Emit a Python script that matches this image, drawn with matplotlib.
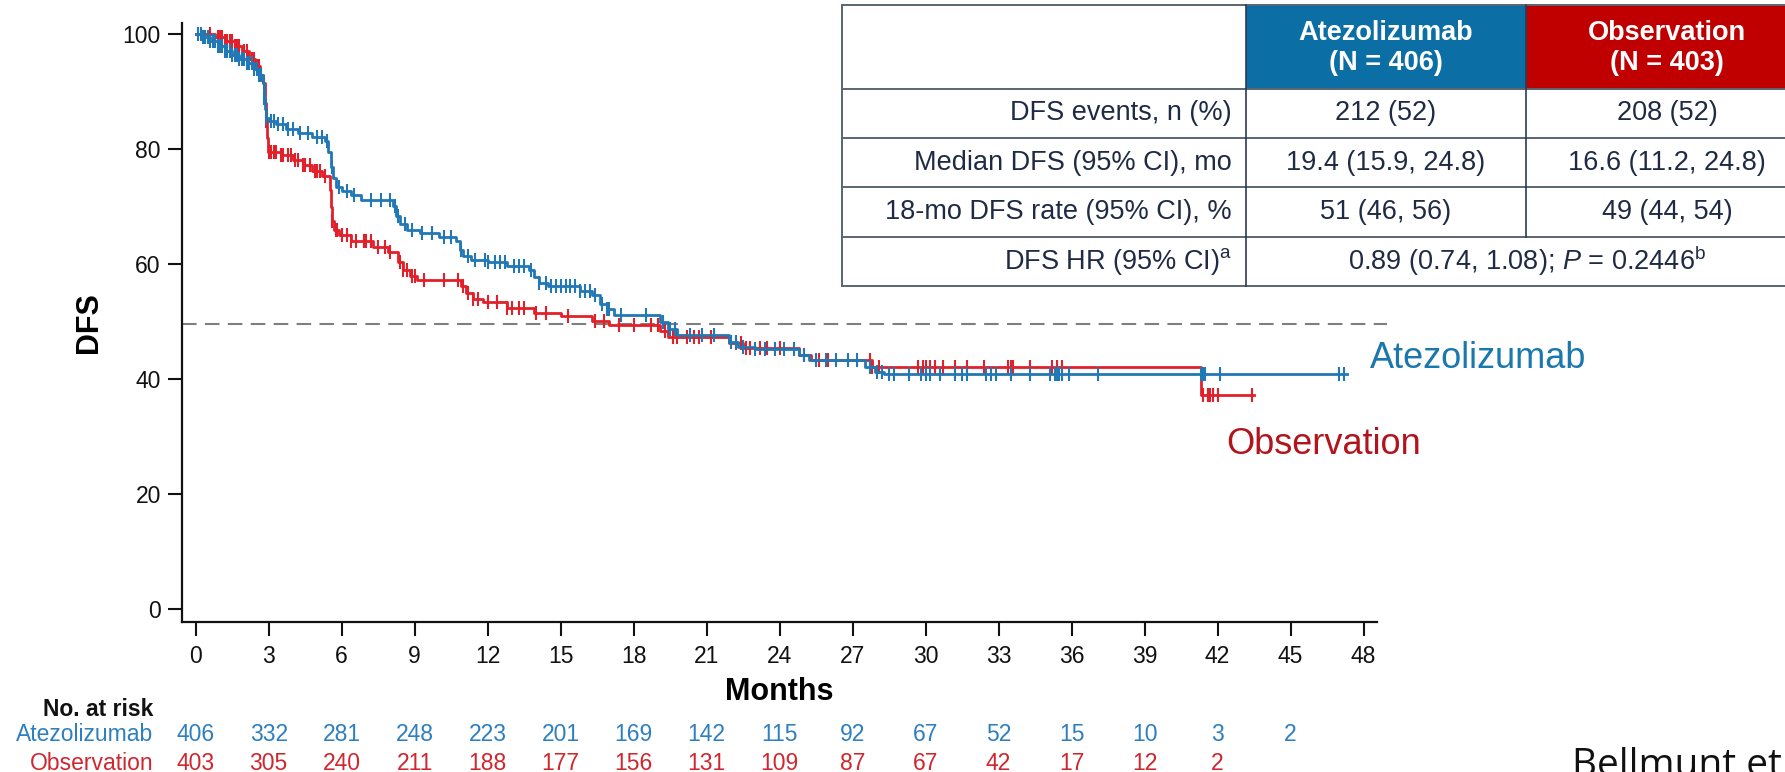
import numpy as np
import matplotlib
matplotlib.use("Agg")
import matplotlib.pyplot as plt
from matplotlib.patches import Rectangle
import matplotlib.transforms as mtransforms

plt.rcParams['font.family'] = ['Liberation Sans', 'DejaVu Sans']
plt.rcParams['mathtext.fontset'] = 'custom'
plt.rcParams['mathtext.rm'] = 'Liberation Sans'
plt.rcParams['mathtext.it'] = 'Liberation Sans:italic'
plt.rcParams['mathtext.bf'] = 'Liberation Sans:bold'

# ---------------- data ----------------
atezo_times = [0, 0.3, 0.6, 0.9, 1.2, 1.5, 1.8, 2.1, 2.4, 2.6, 2.75, 2.8, 2.85, 2.9, 3.0,
               3.3, 3.7, 4.2, 4.8, 5.3, 5.45, 5.55, 5.65, 5.75, 6.0, 6.4, 6.8, 8.1, 8.25,
               8.4, 8.7, 9.2, 10.0, 10.7, 10.85, 11.0, 11.3, 12.0, 12.8, 13.7, 13.9, 14.1,
               14.5, 15.8, 16.3, 16.6, 16.9, 17.2, 19.1, 19.4, 19.8, 21.9, 22.3, 23.0, 24.8,
               25.2, 27.5, 27.9, 28.3, 47.3]
atezo_surv = [100, 99.5, 98.8, 98.0, 97.2, 96.5, 95.8, 95.0, 94.0, 93.0, 91.5, 89.0, 87.0,
              85.5, 85.0, 84.5, 83.6, 82.8, 82.2, 81.5, 79.5, 77.0, 75.0, 73.5, 72.8, 72.0,
              71.2, 70.2, 68.5, 67.0, 66.0, 65.4, 64.8, 64.0, 62.5, 61.5, 60.8, 60.4, 59.8,
              59.0, 57.8, 56.8, 56.2, 55.3, 54.6, 53.2, 52.2, 51.2, 50.0, 48.8, 47.7, 46.5,
              45.6, 45.3, 44.2, 43.4, 42.2, 41.2, 40.9, 40.9]
atezo_censor = [0.1, 0.2, 0.3, 0.4, 0.5, 0.6, 0.7, 0.8, 0.9, 1.0, 1.1, 1.2, 1.3, 1.4, 1.5,
                1.6, 1.7, 1.8, 1.9, 2.0, 2.1, 2.2, 2.3, 2.4, 2.5, 2.6, 2.7, 2.8, 2.9, 3.1,
                3.2, 3.4, 3.6, 3.8, 4.0, 4.3, 4.6, 5.0, 5.2, 5.4, 5.6, 5.9, 6.2, 6.5, 7.2,
                7.6, 8.0, 8.2, 8.3, 8.6, 8.9, 9.3, 9.7, 10.2, 10.5, 10.9, 11.2, 11.5, 11.9,
                12.0, 12.3, 12.5, 12.7, 13.1, 13.3, 13.5, 13.8, 14.1, 14.4, 14.6, 14.8,
                15.0, 15.2, 15.4, 15.6, 15.8, 16.0, 16.2, 16.4, 16.7, 16.9, 17.0, 17.5,
                18.5, 19.2, 19.5, 19.7, 20.3, 20.8, 21.3, 22.0, 22.2, 22.5, 23.0, 23.4,
                23.8, 24.2, 24.6, 25.0, 25.5, 25.9, 26.3, 26.8, 27.2, 27.7, 28.0, 28.2,
                28.5, 28.7, 29.3, 29.8, 30.0, 30.2, 30.6, 31.2, 31.5, 31.7, 32.5, 32.7,
                32.9, 33.5, 34.3, 35.1, 35.3, 35.4, 35.5, 35.6, 35.9, 37.1, 41.3, 41.4,
                41.5, 42.1, 47.0, 47.2]

obs_times = [0, 0.8, 1.2, 1.6, 1.9, 2.2, 2.45, 2.65, 2.78, 2.83, 2.88, 2.93, 2.98, 3.5, 4.0,
             4.4, 4.8, 5.2, 5.5, 5.55, 5.6, 5.7, 5.9, 6.4, 7.3, 7.9, 8.3, 8.5, 8.8, 9.1,
             10.9, 11.1, 11.4, 11.8, 12.8, 13.9, 15.0, 16.3, 17.0, 19.1, 19.4, 21.9, 22.5,
             24.8, 25.3, 27.8, 41.3, 43.5]
obs_surv = [100, 99.5, 98.8, 98.0, 97.2, 95.8, 94.5, 93.0, 91.5, 88.0, 85.0, 82.0, 79.6,
            79.0, 78.2, 77.3, 76.3, 75.3, 73.0, 70.0, 67.5, 66.0, 65.1, 64.0, 63.1, 62.2,
            60.5, 59.0, 58.0, 57.3, 56.2, 55.0, 54.0, 53.4, 52.5, 51.6, 51.1, 50.2, 49.5,
            48.5, 47.4, 46.3, 45.4, 44.2, 43.3, 42.2, 37.3, 37.3]
obs_censor = [0.6, 0.9, 1.0, 1.1, 1.2, 1.3, 1.4, 1.5, 1.6, 1.7, 1.8, 2.0, 2.1, 2.2, 2.3,
              2.4, 2.5, 2.6, 2.7, 2.8, 2.9, 3.0, 3.1, 3.2, 3.3, 3.5, 3.6, 3.8, 3.9, 4.1,
              4.2, 4.4, 4.5, 4.7, 4.9, 5.0, 5.1, 5.3, 5.6, 5.75, 5.8, 6.0, 6.2, 6.4, 6.6,
              6.9, 7.0, 7.2, 7.5, 7.8, 8.0, 8.4, 8.5, 8.7, 8.9, 9.0, 9.4, 10.2, 10.8,
              11.0, 11.2, 11.4, 11.6, 12.0, 12.4, 12.8, 13.0, 13.3, 13.5, 14.0, 14.4,
              15.3, 16.4, 16.8, 17.4, 18.0, 18.7, 19.0, 19.3, 19.6, 19.8, 20.2, 20.5,
              20.7, 21.2, 22.2, 22.4, 22.6, 22.8, 23.2, 23.5, 24.0, 25.0, 25.6, 26.0,
              27.7, 27.8, 28.1, 29.7, 29.9, 30.0, 30.2, 30.4, 30.7, 31.2, 31.7, 32.4,
              33.4, 33.5, 33.6, 34.3, 35.2, 35.4, 35.6, 41.4, 41.6, 41.7, 41.8, 42.0, 43.4]

reference_level = 49.6
month_ticks = list(range(0, 49, 3))
dfs_ticks = [0, 20, 40, 60, 80, 100]
risk_atezo = [406, 332, 281, 248, 223, 201, 169, 142, 115, 92, 67, 52, 15, 10, 3, 2]
risk_obs = [403, 305, 240, 211, 188, 177, 156, 131, 109, 87, 67, 42, 17, 12, 2]

arm_names = ["Atezolizumab", "Observation"]
arm_headers = ["Atezolizumab\n(N = 406)", "Observation\n(N = 403)"]
row_labels = ["DFS events, n (%)", "Median DFS (95% CI), mo",
              "18-mo DFS rate (95% CI), %", r"DFS HR (95% CI)$^{\mathrm{a}}$"]
atezo_col = ["212 (52)", "19.4 (15.9, 24.8)", "51 (46, 56)"]
obs_col = ["208 (52)", "16.6 (11.2, 24.8)", "49 (44, 54)"]
hr_text = r"0.89 (0.74, 1.08); $\mathit{P}$ = 0.2446$^{\mathrm{b}}$"
citation = "Bellmunt et al."

# ---------------- style ----------------
BLUE = "#2277b5"
RED = "#e2202a"
BLUE_TXT = "#1b78ad"
RED_TXT = "#b3141c"
BLUE_RISK = "#2e7fbf"
RED_RISK = "#d0262e"
HDR_BLUE = "#0b6ea4"
HDR_RED = "#c00000"
TBL_TXT = "#1f2a44"

W, H = 1785, 772
fig = plt.figure(figsize=(W / 100, H / 100), dpi=100)
fig.patch.set_facecolor("white")

ax_l, ax_r, ax_t, ax_b = 181.7, 1376.7, 23.0, 622.3
ax = fig.add_axes([ax_l / W, 1 - ax_b / H, (ax_r - ax_l) / W, (ax_b - ax_t) / H])
ax.set_xlim(-0.575, 48.54)
ax.set_ylim(-2.26, 102)

def surv_at(times, surv, t):
    idx = np.searchsorted(times, t, side="right") - 1
    return np.asarray(surv)[idx]

for times, surv, cens, col, z in [(atezo_times, atezo_surv, atezo_censor, BLUE, 3),
                                  (obs_times, obs_surv, obs_censor, RED, 2)]:
    ax.step(times, surv, where="post", color=col, lw=2.0, zorder=z)
    ct = np.array(cens)
    ax.plot(ct, surv_at(times, surv, ct), ls="none", marker="|", ms=10, mew=1.5,
            color=col, zorder=z)

# reference dashed line (extends slightly past the axis)
ax.plot([-0.575, 48.95], [reference_level, reference_level], ls=(0, (7, 4)),
        color="#7f7f7f", lw=1.5, clip_on=False, zorder=1)

ax.set_xticks(month_ticks)
ax.set_yticks(dfs_ticks)
ax.tick_params(axis="both", length=10, width=1.5, labelsize=16.5, colors="#111111")
ax.tick_params(axis="x", pad=6)
ax.tick_params(axis="y", pad=5)
for s in ["top", "right"]:
    ax.spines[s].set_visible(False)
for s in ["left", "bottom"]:
    ax.spines[s].set_linewidth(1.6)
    ax.spines[s].set_color("#111111")

ax.set_ylabel("DFS", fontsize=22, fontweight="bold")
ax.yaxis.set_label_coords(-0.065, 0.5)
ax.set_xlabel("Months", fontsize=22, fontweight="bold")
ax.xaxis.set_label_coords(0.5, -0.092)

# arm labels next to the curves
ax.text(48.27, 42.0, arm_names[0], color=BLUE_TXT, fontsize=26, ha="left",
        va="baseline", clip_on=False)
ax.text(42.35, 27.0, arm_names[1], color=RED_TXT, fontsize=26, ha="left",
        va="baseline", clip_on=False)

# number at risk
trans = mtransforms.blended_transform_factory(ax.transData, fig.transFigure)
y_hdr, y_r1, y_r2 = 1 - 716 / H, 1 - 741 / H, 1 - 770 / H
fig.text(153 / W, y_hdr, "No. at risk", fontsize=16.5, fontweight="bold",
         ha="right", va="baseline", color="#111111")
fig.text(153 / W, y_r1, arm_names[0], fontsize=16.5, ha="right", va="baseline",
         color=BLUE_RISK)
fig.text(153 / W, y_r2, arm_names[1], fontsize=16.5, ha="right", va="baseline",
         color=RED_RISK)
for m, n in zip(month_ticks, risk_atezo):
    ax.text(m, y_r1, str(n), transform=trans, fontsize=16.5, ha="center",
            va="baseline", color=BLUE_RISK, clip_on=False)
for m, n in zip(month_ticks, risk_obs):
    ax.text(m, y_r2, str(n), transform=trans, fontsize=16.5, ha="center",
            va="baseline", color=RED_RISK, clip_on=False)

# ---------------- summary table (pixel overlay) ----------------
ov = fig.add_axes([0, 0, 1, 1], zorder=5)
ov.set_xlim(0, W)
ov.set_ylim(H, 0)
ov.axis("off")
ov.patch.set_alpha(0)

xe = [842, 1246, 1526, 1808]
ye = [5, 89, 137.7, 187.3, 236.7, 285.7]
ov.add_patch(Rectangle((xe[0], ye[0]), xe[3] - xe[0], ye[-1] - ye[0],
                       facecolor="white", edgecolor="none", clip_on=False))
ov.add_patch(Rectangle((xe[1], ye[0]), xe[2] - xe[1], ye[1] - ye[0],
                       facecolor=HDR_BLUE, edgecolor="none", clip_on=False))
ov.add_patch(Rectangle((xe[2], ye[0]), xe[3] - xe[2], ye[1] - ye[0],
                       facecolor=HDR_RED, edgecolor="none", clip_on=False))
lc = "#5b6573"
for y in ye:
    ov.plot([xe[0], xe[3]], [y, y], color=lc, lw=1.4, clip_on=False,
            solid_capstyle="butt")
ov.plot([xe[0], xe[0]], [ye[0], ye[-1]], color=lc, lw=1.4, clip_on=False)
ov.plot([xe[1], xe[1]], [ye[0], ye[-1]], color="#2c3a55", lw=1.2, clip_on=False)
ov.plot([xe[2], xe[2]], [ye[0], ye[-2]], color="#2c3a55", lw=1.2, clip_on=False)

fs_t = 19.5
for j, hdr in enumerate(arm_headers):
    cx = (xe[j + 1] + xe[j + 2]) / 2
    ov.text(cx, (ye[0] + ye[1]) / 2 + 1, hdr, color="white", fontsize=fs_t,
            fontweight="bold", ha="center", va="center", linespacing=1.25,
            clip_on=False)
for i, lab in enumerate(row_labels):
    cy = (ye[i + 1] + ye[i + 2]) / 2
    ov.text(xe[1] - 14, cy, lab, color=TBL_TXT, fontsize=fs_t, ha="right",
            va="center", clip_on=False)
for i in range(3):
    cy = (ye[i + 1] + ye[i + 2]) / 2
    ov.text((xe[1] + xe[2]) / 2, cy, atezo_col[i], color=TBL_TXT, fontsize=fs_t,
            ha="center", va="center", clip_on=False)
    ov.text((xe[2] + xe[3]) / 2, cy, obs_col[i], color=TBL_TXT, fontsize=fs_t,
            ha="center", va="center", clip_on=False)
ov.text((xe[1] + xe[3]) / 2, (ye[4] + ye[5]) / 2, hr_text, color=TBL_TXT,
        fontsize=fs_t, ha="center", va="center", clip_on=False)

# citation (cut by the figure edge as in the source)
fig.text(1572 / W, -4 / H, citation, fontsize=28, family=["Open Sans", "DejaVu Sans"],
         ha="left", va="baseline", color="#111111")

fig.savefig("out.png", dpi=100)
